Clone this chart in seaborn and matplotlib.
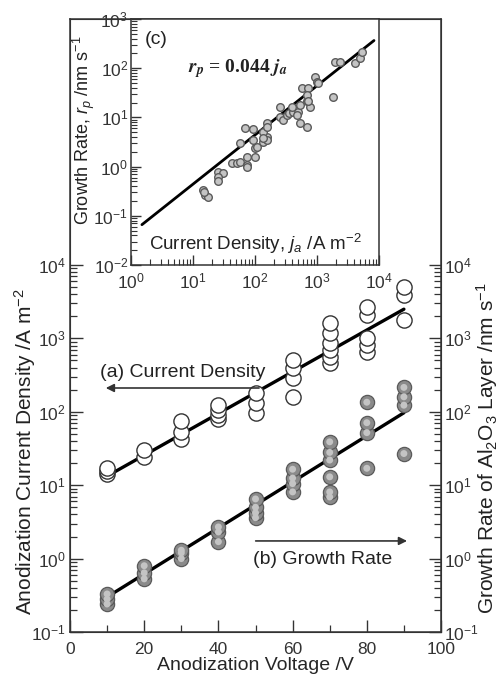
import numpy as np
import pandas as pd
import matplotlib
matplotlib.use("Agg")
import matplotlib.pyplot as plt
import seaborn as sns
from matplotlib.ticker import FixedLocator, LogFormatterSciNotation, NullFormatter

# ---------------- data ----------------
# (a) anodization current density vs voltage (open circles)
cd_voltage = [10, 10, 10, 20, 20, 30, 30, 30, 40, 40, 40, 40, 50, 50, 50,
              60, 60, 60, 60, 70, 70, 70, 70, 70, 70, 80, 80, 80, 80, 80, 90, 90, 90]
cd_value = [14, 15.5, 17, 24, 30, 43, 53, 75, 80, 90, 105, 122, 96, 132, 180,
            160, 290, 400, 510, 460, 560, 690, 870, 1180, 1620, 650, 810, 1020, 2090, 2700,
            1780, 3900, 5000]
# (b) growth rate vs voltage (grey spheres)
gr_voltage = [10, 10, 10, 20, 20, 20, 30, 30, 30, 40, 40, 40, 50, 50, 50, 50,
              60, 60, 60, 60, 70, 70, 70, 70, 70, 70, 80, 80, 80, 80, 90, 90, 90, 90]
gr_value = [0.24, 0.28, 0.33, 0.53, 0.64, 0.8, 1.0, 1.2, 1.3, 1.7, 2.3, 2.7, 3.6, 4.2, 5.0, 6.5,
            8.1, 10.5, 12.5, 16.5, 6.9, 8.1, 13, 22, 28, 39, 17, 52, 71, 135, 27, 123, 160, 215]
# fitted lines (end points)
fit_a_voltage = [10, 90]
fit_a_value = [13.3, 2500]
fit_b_voltage = [10, 90]
fit_b_value = [0.30, 97]

# (c) inset: growth rate vs current density
inset_j = [14.5, 15.5, 17.5, 15, 25, 30, 25, 25, 43, 51, 57, 74, 74, 74, 100, 100, 107, 93, 93,
           135, 155, 135, 155, 155, 155, 135, 250, 280, 330, 360, 410, 490, 480, 540, 690, 780,
           690, 540, 400, 250, 580, 710, 690, 710, 930, 1000, 1050, 1820, 1950, 2340, 4100,
           4900, 5400, 70, 58]
inset_r = [0.33, 0.26, 0.24, 0.30, 0.78, 0.74, 0.62, 0.51, 1.17, 1.17, 1.23, 1.07, 1.57, 0.99,
           1.57, 2.4, 2.5, 3.5, 5.7, 3.2, 4.0, 5.0, 7.8, 6.3, 3.5, 3.8, 10, 9, 11, 12.5, 13, 13,
           11, 7.8, 6.3, 16, 22, 18, 16, 16, 40, 40, 29, 22, 66, 52, 50, 26, 135, 135, 130, 160,
           215, 6.0, 3.0]
fit_c_j = [1.5, 8300]
fit_c_r = [0.044 * 1.5, 0.044 * 8300]

main_yticks = [1e-1, 1e0, 1e1, 1e2, 1e3, 1e4]
main_xticks = [0, 20, 40, 60, 80, 100]
inset_xticks = [1e0, 1e1, 1e2, 1e3, 1e4]
inset_yticks = [1e-2, 1e-1, 1e0, 1e1, 1e2, 1e3]

# ---------------- style ----------------
sns.set_style("ticks")
plt.rcParams['font.family'] = ['Liberation Sans', 'DejaVu Sans']
plt.rcParams['mathtext.fontset'] = 'custom'
plt.rcParams['mathtext.rm'] = 'Liberation Sans'
plt.rcParams['mathtext.it'] = 'Liberation Sans:italic'
plt.rcParams['mathtext.bf'] = 'Liberation Sans:bold'
plt.rcParams['axes.edgecolor'] = '#333333'
plt.rcParams['text.color'] = '#222222'
plt.rcParams['xtick.color'] = '#333333'
plt.rcParams['ytick.color'] = '#333333'

W, H = 501, 679
fig = plt.figure(figsize=(W / 100, H / 100), dpi=100)

def fx(px):
    return px / W

def fy(py):
    return 1 - py / H

TICK_FS = 12.5

# main axes geometry (pixels)
L, R, T, B = 70, 441, 19, 632
px_per_dec = 73.4
ytop = 10 ** (-1 + (B - T) / px_per_dec)

ax = fig.add_axes([fx(L), fy(B), fx(R) - fx(L), fy(T) - fy(B)])
df_a = pd.DataFrame({"V": cd_voltage, "val": cd_value})
df_b = pd.DataFrame({"V": gr_voltage, "val": gr_value})
sns.lineplot(x=fit_a_voltage, y=fit_a_value, ax=ax, color='black', lw=2.4, zorder=2)
sns.lineplot(x=fit_b_voltage, y=fit_b_value, ax=ax, color='black', lw=2.4, zorder=2)
sns.scatterplot(data=df_a, x="V", y="val", ax=ax, s=120, facecolor='white',
                edgecolor='#333333', linewidth=1.0, zorder=3)
sns.scatterplot(data=df_b, x="V", y="val", ax=ax, s=105, facecolor='#8a8a8a',
                edgecolor='#5a5a5a', linewidth=0.9, zorder=3)
sns.scatterplot(data=df_b, x="V", y="val", ax=ax, s=25, facecolor='#c4c4c4',
                edgecolor='none', linewidth=0, zorder=4)
ax.set_yscale('log')
ax.set_xlim(0, 100)
ax.set_ylim(0.1, ytop)
ax.set_xlabel("Anodization Voltage /V", fontsize=14, labelpad=0)
ax.set_ylabel("")
minor_y = [m * 10.0 ** e for e in range(-1, 4) for m in range(2, 10)]
ax.yaxis.set_major_locator(FixedLocator(main_yticks))
ax.yaxis.set_minor_locator(FixedLocator(minor_y))
ax.yaxis.set_major_formatter(LogFormatterSciNotation())
ax.yaxis.set_minor_formatter(NullFormatter())
ax.xaxis.set_major_locator(FixedLocator(main_xticks))
ax.xaxis.set_minor_locator(FixedLocator([10, 30, 50, 70, 90]))
ax.tick_params(axis='both', which='major', direction='in', length=9, width=1.0,
               labelsize=TICK_FS, pad=3)
ax.tick_params(axis='both', which='minor', direction='in', length=5, width=0.9)
ax.tick_params(axis='x', which='major', pad=7)
ax.tick_params(axis='y', which='both', left=True, right=False)
for s in ax.spines.values():
    s.set_linewidth(1.1)
fig.text(fx(25), fy(452), "Anodization Current Density /A m$^{-2}$", rotation=90,
         ha='center', va='center', fontsize=15)

ax2 = ax.twinx()
ax2.set_yscale('log')
ax2.set_ylim(0.1, ytop)
ax2.yaxis.set_major_locator(FixedLocator(main_yticks))
ax2.yaxis.set_minor_locator(FixedLocator(minor_y))
ax2.yaxis.set_major_formatter(LogFormatterSciNotation())
ax2.yaxis.set_minor_formatter(NullFormatter())
ax2.tick_params(axis='y', which='major', direction='in', length=9, width=1.0,
                labelsize=TICK_FS, pad=2)
ax2.tick_params(axis='y', which='minor', direction='in', length=5, width=0.9)
fig.text(fx(487), fy(448), "Growth Rate of Al$_2$O$_3$ Layer /nm s$^{-1}$", rotation=90,
         ha='center', va='center', fontsize=15)

# annotations
ax.annotate("", xy=(8.9, 211), xytext=(51.7, 211),
            arrowprops=dict(arrowstyle='-|>', color='#333333', lw=1.2, mutation_scale=12))
ax.text(8.0, 340, "(a) Current Density", fontsize=14, ha='left', va='center')
ax.annotate("", xy=(91.6, 1.74), xytext=(49.3, 1.74),
            arrowprops=dict(arrowstyle='-|>', color='#333333', lw=1.2, mutation_scale=12))
ax.text(49.3, 0.96, "(b) Growth Rate", fontsize=14, ha='left', va='center')

# ---------------- inset ----------------
iL, iR, iT, iB = 131, 379, 19, 265
axi = fig.add_axes([fx(iL), fy(iB), fx(iR) - fx(iL), fy(iT) - fy(iB)])
df_c = pd.DataFrame({"j": inset_j, "r": inset_r})
sns.lineplot(x=fit_c_j, y=fit_c_r, ax=axi, color='black', lw=2.0, zorder=2)
sns.scatterplot(data=df_c, x="j", y="r", ax=axi, s=30, facecolor='#c4c4c4',
                edgecolor='#5a5a5a', linewidth=1.0, zorder=3)
axi.set_xscale('log')
axi.set_yscale('log')
axi.set_xlim(1, 1e4)
axi.set_ylim(1e-2, 1e3)
axi.set_xlabel("")
axi.set_ylabel("")
axi.xaxis.set_major_locator(FixedLocator(inset_xticks))
axi.yaxis.set_major_locator(FixedLocator(inset_yticks))
axi.xaxis.set_minor_locator(FixedLocator([m * 10.0 ** e for e in range(0, 4) for m in range(2, 10)]))
axi.yaxis.set_minor_locator(FixedLocator([m * 10.0 ** e for e in range(-2, 3) for m in range(2, 10)]))
axi.xaxis.set_major_formatter(LogFormatterSciNotation())
axi.yaxis.set_major_formatter(LogFormatterSciNotation())
axi.xaxis.set_minor_formatter(NullFormatter())
axi.yaxis.set_minor_formatter(NullFormatter())
axi.tick_params(axis='both', which='major', direction='in', length=7, width=1.0,
                labelsize=TICK_FS, pad=2)
axi.tick_params(axis='x', which='major', pad=5)
axi.tick_params(axis='both', which='minor', direction='in', length=4, width=0.8)
for s in axi.spines.values():
    s.set_linewidth(1.1)
axi.text(0.055, 0.95, "(c)", transform=axi.transAxes, fontsize=14, ha='left', va='top')
axi.text(0.23, 0.80, r"$\mathbfit{r_p}$ = 0.044 $\mathbfit{j_a}$", transform=axi.transAxes,
         fontsize=14, ha='left', va='center', family='Liberation Serif', fontweight='bold',
         math_fontfamily='stix')
axi.text(0.5, 0.035, "Current Density, $j_a$ /A m$^{-2}$", transform=axi.transAxes,
         fontsize=13.5, ha='center', va='bottom')
fig.text(fx(84), fy(130), "Growth Rate, $r_p$ /nm s$^{-1}$", rotation=90,
         ha='center', va='center', fontsize=13)

fig.savefig("out.png", dpi=100)
